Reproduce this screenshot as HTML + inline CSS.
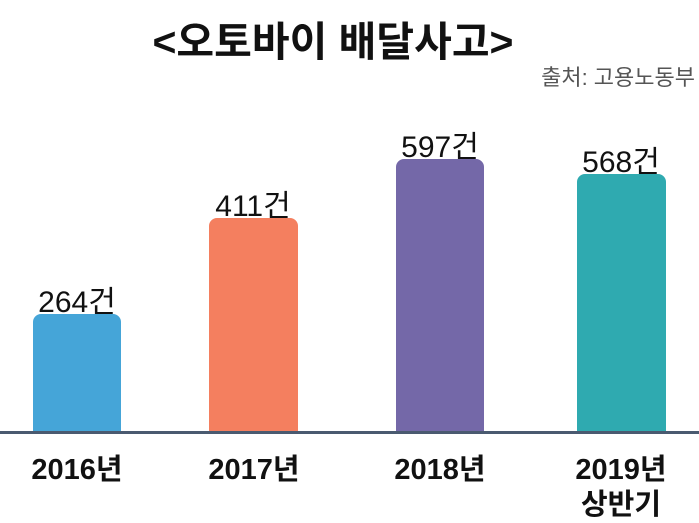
<!DOCTYPE html>
<html><head><meta charset="utf-8"><style>
body{margin:0;width:699px;height:520px;background:#fff;position:relative;overflow:hidden;font-family:"Liberation Sans","Noto Sans CJK KR",sans-serif;}
.t{position:absolute;white-space:nowrap;text-align:center;}
.bar{position:absolute;border-radius:8px 8px 0 0;}
</style></head><body>
<div class="t" style="left:0;width:666px;top:8px;font-size:41px;font-weight:bold;color:#111;">&lt;오토바이 배달사고&gt;</div>
<div class="t" style="right:4px;top:60px;font-size:22px;color:#555;">출처: 고용노동부</div>

<div class="bar" style="left:33px;width:88px;top:314px;height:119px;background:#45a5d8"></div>
<div class="bar" style="left:209px;width:89px;top:218px;height:215px;background:#f47f5f"></div>
<div class="bar" style="left:396px;width:88px;top:159px;height:274px;background:#7468a8"></div>
<div class="bar" style="left:577px;width:89px;top:174px;height:259px;background:#2faab0"></div>
<div style="position:absolute;left:0;width:699px;top:431px;height:3px;background:#4a5a70"></div>

<div class="t" style="left:17px;width:120px;top:277px;font-size:30px;color:#111;">264건</div>
<div class="t" style="left:193px;width:120px;top:181px;font-size:30px;color:#111;">411건</div>
<div class="t" style="left:380px;width:120px;top:122px;font-size:30px;color:#111;">597건</div>
<div class="t" style="left:561px;width:120px;top:137px;font-size:30px;color:#111;">568건</div>

<div class="t" style="left:7px;width:140px;top:446px;font-size:29px;font-weight:bold;color:#111;">2016년</div>
<div class="t" style="left:184px;width:140px;top:446px;font-size:29px;font-weight:bold;color:#111;">2017년</div>
<div class="t" style="left:370px;width:140px;top:446px;font-size:29px;font-weight:bold;color:#111;">2018년</div>
<div class="t" style="left:551px;width:140px;top:446px;font-size:29px;font-weight:bold;color:#111;">2019년</div>
<div class="t" style="left:551px;width:140px;top:481px;font-size:29px;font-weight:bold;color:#111;">상반기</div>
</body></html>
